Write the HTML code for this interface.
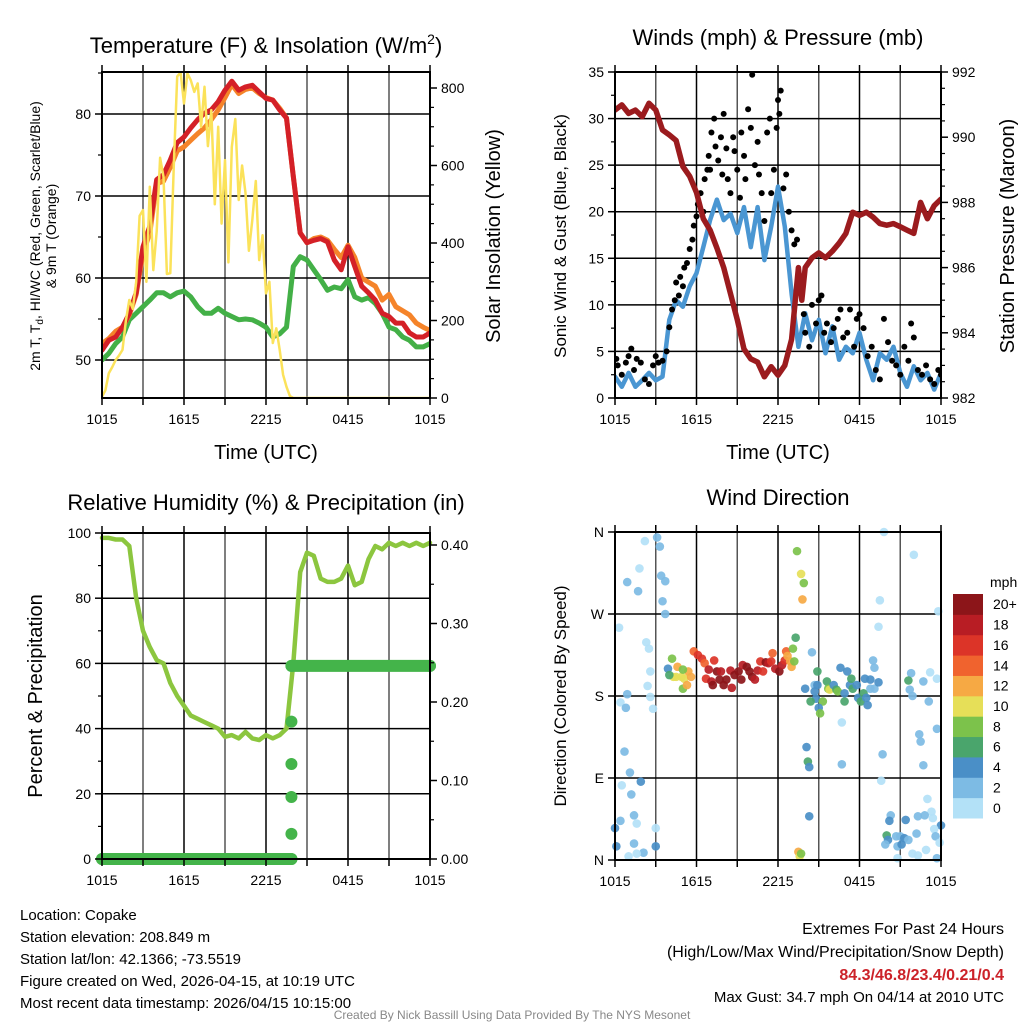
<!DOCTYPE html>
<html><head><meta charset="utf-8">
<style>
body{margin:0;background:#fff;}
svg{display:block;font-family:"Liberation Sans",sans-serif;}
</style></head>
<body>
<svg id="chart" width="1024" height="1024" viewBox="0 0 1024 1024">
</svg>
<script>
// ---------- DATA ----------
const halfHourT = [0,0.5,1,1.5,2,2.5,3,3.5,4,4.5,5,5.5,6,6.5,7,7.5,8,8.5,9,9.5,10,10.5,11,11.5,12,12.5,13,13.5,14,14.5,15,15.5,16,16.5,17,17.5,18,18.5,19,19.5,20,20.5,21,21.5,22,22.5,23,23.5,24];
const timeTickLabels = ["1015","1615","2215","0415","1015"];
const temp2m = [51.2,52.4,52.8,54,55.7,58.2,63.8,66.3,72,72.6,74.4,76.5,77.2,78.3,79.3,80.1,80.5,81.5,82.9,84,82.9,83.3,83.5,82.7,81.9,81.7,80.5,79.5,72.4,65.5,64.3,64.6,64.8,64.4,62.2,61,63.8,61.4,59,58.2,57.3,55.7,55.3,54.5,54.5,53.3,52.8,52.8,53.3];
const temp9m = [52,52.6,53.5,54,55.5,58,63,65.5,71.5,71.8,73.5,75.5,76,76.8,77.6,78.3,79.3,80.5,82,83.6,82.5,83,83.2,82.5,82,81.7,80.7,79.5,72.4,65.5,64.3,64.8,65,64.6,63.5,62.5,64,62.5,60,59.5,59,57.3,58,56.5,56,55.5,54.5,54,53.6];
const dewpoint = [50,50.8,52,52.8,54.9,55.7,56.5,57.3,58.2,58.2,57.7,58.2,58.4,57.7,56.5,55.7,55.7,56.3,55.7,55.3,54.9,55,54.9,54.5,54,52.8,53.2,54,61.4,62.6,62.2,61,59.8,58.5,58.9,58.7,59.8,57.7,57.3,57.6,56.9,55.7,54,53.7,52.8,52.4,51.6,51.6,52];
const insolT = [0,0.25,0.5,0.75,1,1.25,1.5,1.75,2,2.25,2.5,2.75,3,3.25,3.5,3.75,4,4.25,4.5,4.75,5,5.25,5.5,5.75,6,6.25,6.5,6.75,7,7.25,7.5,7.75,8,8.25,8.5,8.75,9,9.25,9.5,9.75,10,10.25,10.5,10.75,11,11.25,11.5,11.75,12,12.25,12.5,12.75,13,13.25,13.5,13.75,14,24];
const insol = [3,20,64,80,98,110,124,200,253,230,300,470,485,300,545,330,430,620,571,320,322,600,830,840,760,838,820,790,812,700,803,650,743,500,700,450,614,350,648,720,511,600,529,380,459,560,356,420,270,300,142,180,124,60,29,5,0,0];
const tempTicks = [50,60,70,80];
const insolTicks = [0,200,400,600,800];

const windSpeed = [2.3,1.2,2.7,1.2,1.9,2.7,1.9,2.3,8.4,10.5,9.8,12,13.4,16.2,19.1,21.3,19.1,19.8,17.7,20.5,16.2,20.5,14.8,18.4,22.7,18.4,11.2,5.5,9.1,6.2,8.4,4.8,7.7,4.1,5.5,4.8,7,4.1,1.9,4.8,4.1,5.5,2.7,1.2,3.4,1.9,2.7,0.9,2.7];
const pressureT = [0,0.5,1,1.5,2,2.5,3,3.5,4,4.5,5,5.5,6,6.5,7,7.5,8,8.5,9,9.5,10,10.5,11,11.5,12,12.5,13,13.5,13.75,14,14.5,15,15.5,16,16.5,17,17.5,18,18.5,19,19.5,20,20.5,21,21.5,22,22.5,23,23.5,24];
const pressure = [990.83,990.99,990.73,990.83,990.63,991.04,990.83,990.22,990.07,989.9,989.1,988.8,988.3,987.5,987.15,986.6,986.0,985.2,984.4,983.5,983.2,983.1,982.65,982.96,982.7,983,983.8,986,985,986,986.3,986.45,986.3,986.5,986.75,987.05,987.7,987.6,987.7,987.55,987.35,987.3,987.35,987.25,987.15,987.05,988,987.5,987.9,988.1];
const gustT = [0.1,0.2,0.5,0.8,1.0,1.2,1.4,1.6,1.9,2.2,2.5,2.8,3.0,3.2,3.5,3.8,4.0,4.2,4.4,4.5,4.7,4.8,5.0,5.1,5.3,5.5,5.7,5.8,6.0,6.1,6.3,6.5,6.6,6.8,6.9,7.0,7.1,7.3,7.4,7.6,7.8,7.9,8.0,8.2,8.3,8.5,8.7,8.8,9.0,9.2,9.3,9.5,9.6,9.8,10.0,10.1,10.3,10.5,10.6,10.8,11.0,11.2,11.4,11.5,11.7,11.9,12.0,12.1,12.2,12.4,12.6,12.8,13.0,13.2,13.4,13.5,13.7,13.9,14.0,14.3,14.5,14.8,15.0,15.2,15.4,15.6,15.9,16.1,16.4,16.6,16.8,17.1,17.3,17.6,17.8,18.0,18.3,18.6,18.9,19.2,19.5,19.8,20.1,20.4,20.7,21.0,21.3,21.6,21.8,22.0,22.3,22.6,22.9,23.2,23.5,23.8,24.0];
const gustV = [4.2,3.5,2.5,3.8,4.5,5.3,3.0,4.2,3.8,2.0,1.5,3.5,4.5,3.8,4.0,5.0,7.6,9.5,10.5,12.4,11.0,13.0,12.0,14.0,14.5,16.0,17.0,18.5,19.5,20.8,22.0,20.0,23.5,24.5,26.0,24.5,28.5,30.0,27.0,25.5,28.0,24.0,30.5,26.8,23.5,22.0,28.0,26.5,24.5,21.5,28.5,26.0,23.5,31.0,29.0,34.7,25.0,27.5,24.0,22.0,19.0,28.5,30.0,22.0,24.5,29.0,32.0,30.5,33.0,22.5,24.0,20.0,18.0,16.5,17.0,13.0,11.5,9.0,7.0,5.5,10.0,8.0,10.5,11.0,7.0,8.0,6.0,7.5,8.5,9.5,6.5,7.0,9.5,5.5,8.5,9.0,7.5,4.5,5.5,3.0,2.0,8.5,6.0,4.0,3.5,2.5,5.5,4.0,8.0,6.5,3.0,2.5,3.5,2.0,1.5,3.0,2.5];
const windTicks = [0,5,10,15,20,25,30,35];
const pressTicks = [982,984,986,988,990,992];

const rh = [98.5,98.5,98,98,96,80,70,65,61,60,54,50,47,44,43,42,41,40,37.5,38,37,39,37,36.5,38,37,38,40,60,88,94,93,86,85,85,86,90,84,85,92,96,95,97,96,97,96,97,96,97];
const precipT = [0,13.86,13.86,13.86,13.86,13.86,13.86,24];
const precipV = [0,0,0.032,0.079,0.121,0.175,0.246,0.246];
const rhTicks = [0,20,40,60,80,100];
const precipTicks = [0,0.1,0.2,0.3,0.4];
const precipTickLabels = ["0.00","0.10","0.20","0.30","0.40"];

const dirT = [2.2,3.1,3.3,1.8,0.9,1.7,3.4,3.7,3.5,3.7,0.3,2.3,2.5,2.6,2.4,2.6,0.9,0.4,0.8,2.8,0.7,1.1,1.9,0.5,1.2,1.4,1.6,0.4,0,3.0,0.1,1.4,2.1,1.0,3.0,1.6,
3.9,4.2,4.6,4.3,4.5,4.9,5.1,5.4,5.6,5.0,5.3,4.0,5.0,
5.8,6.1,6.4,6.6,6.9,6.7,7.1,7.2,7.3,7.5,7.7,7.8,8.0,8.2,8.5,8.6,8.8,9.1,9.3,9.4,9.7,9.9,10.1,10.3,10.5,10.7,10.9,11.1,11.3,11.5,11.6,11.8,12.1,12.3,12.5,12.6,12.7,12.9,13.0,13.1,13.2,13.3,
13.4,13.7,13.9,13.8,14.5,14.0,14.7,14.9,14.9,14.7,14.8,14.4,15.3,15.0,15.1,15.6,15.7,15.8,16.1,16.3,16.4,16.6,16.7,16.9,16.9,17.1,17.3,17.4,17.5,17.8,17.9,18.1,18.3,18.4,18.6,18.5,18.8,18.8,19.0,19.1,19.1,19.4,14.1,14.2,14.3,16.7,14.3,13.5,13.6,13.7,
19.8,22.0,19.5,19.4,23.8,21.8,21.6,22.7,23.2,23.7,21.7,21.9,23.1,23.7,22.4,22.5,22.7,19.7,19.6,23.0,23.3,20.3,20.2,21.4,22.3,22.8,23.4,24.0,23.5,20.0,20.1,20.7,21.0,21.3,21.6,22.2,19.9,20.8,21.1,23.6,22.9,23.9,21.9,22.3,23.7,20.8];
const dirDeg = [350,354,344,320,305,295,312,306,284,270,255,239,232,207,191,179,182,173,167,166,119,96,86,82,72,49,40,43,35,35,15,18,8,4,15,7,
210,221,212,201,201,201,199,207,201,188,192,203,209,
229,225,221,216,209,199,196,192,219,207,198,207,192,198,208,189,203,207,198,214,212,207,201,198,208,218,207,217,216,218,227,210,207,214,219,229,224,218,212,232,218,244,
339,314,304,286,228,188,192,207,192,185,177,174,174,167,161,196,188,187,192,187,185,211,151,174,183,207,192,199,188,192,178,174,183,199,170,178,198,188,219,211,188,195,124,108,102,105,48,9,4,7,
360,335,285,256,273,205,197,196,206,199,187,180,174,144,138,130,104,116,87,67,53,49,43,44,48,49,46,38,34,27,22,26,26,24,22,29,17,15,17,26,11,19,7,5,2,2];
const dirSpeed = [1,3,3,1,3,3,3,3,3,3,1,1,1,1,1,1,3,1,3,1,3,3,5,1,3,3,1,3,5,1,5,3,3,1,5,1,
5,9,13,11,11,11,11,13,13,9,13,7,9,
15,17,17,15,19,17,19,21,17,21,21,19,21,21,19,19,21,21,21,19,21,21,21,19,19,17,17,21,19,17,15,19,21,19,17,15,13,13,13,9,9,7,
9,11,9,13,3,5,3,7,5,5,5,7,9,5,9,7,9,11,5,7,9,5,1,7,5,5,5,7,7,5,5,7,7,5,5,5,5,3,3,3,3,5,5,7,5,3,5,13,11,9,
1,1,1,1,1,3,7,3,1,1,3,3,3,3,3,3,3,3,1,1,1,3,5,5,3,3,1,5,1,7,5,3,3,5,3,3,3,3,5,3,1,1,1,1,3,1];
const dirTicks = [0,90,180,270,360];
const dirTickLabels = ["N","E","S","W","N"];
const speedBins = ["0","2","4","6","8","10","12","14","16","18","20+"];
const speedColors = ["#b3e1f7","#7dbbe4","#4a8fc7","#4aa56c","#7cc24b","#e6df58","#f6a944","#f0632e","#dc3428","#b81d24","#8c1519"];

// ---------- DRAW ----------
const NS="http://www.w3.org/2000/svg";
const svg=document.getElementById('chart');
function el(tag,attrs,parent){const e=document.createElementNS(NS,tag);for(const k in attrs)e.setAttribute(k,attrs[k]);(parent||svg).appendChild(e);return e;}
function txt(s,attrs,parent){const e=el('text',attrs,parent);e.textContent=s;return e;}
function lin(d0,d1,p0,p1){return v=>p0+(v-d0)/(d1-d0)*(p1-p0);}

function panel(name){
  const g=el('g',{});
  
  
  return g;
}
function grid(g,x0,x1,y0,y1,ys,xsc){
  const gg=el('g',{},g);
  
  
  for(let h=3;h<24;h+=3){const x=xsc(h);el('line',{x1:x,x2:x,y1:y0,y2:y1,stroke:(h%6===0)?'#000':'#555','stroke-width':1.5},gg);}
  ys.forEach(y=>el('line',{x1:x0,x2:x1,y1:y,y2:y,stroke:'#000','stroke-width':1.5},gg));
}
function frame(g,x0,x1,y0,y1,xsc){
  el('rect',{x:x0,y:y0,width:x1-x0,height:y1-y0,fill:'none',stroke:'#000','stroke-width':2},g);
  for(let h=0;h<=24;h+=3){const x=xsc(h);el('line',{x1:x,x2:x,y1:y1,y2:y1+7,stroke:'#000','stroke-width':1.5},g);el('line',{x1:x,x2:x,y1:y0,y2:y0-7,stroke:'#000','stroke-width':1.5},g);}
  timeTickLabels.forEach((s,i)=>{const t=txt(s,{x:xsc(i*6),y:y1+26,'font-size':14,'text-anchor':'middle'},g);
    });
}
function leftTicks(g,x0,vals,ysc,labels,minor){
  vals.forEach((v,i)=>{const y=ysc(v);el('line',{x1:x0-7,x2:x0,y1:y,y2:y,stroke:'#000','stroke-width':1.5},g);
    const t=txt(labels?labels[i]:String(v),{x:x0-11,y:y+5,'font-size':14,'text-anchor':'end'},g);
    });
  (minor||[]).forEach(v=>{const y=ysc(v);el('line',{x1:x0-4,x2:x0,y1:y,y2:y,stroke:'#000','stroke-width':1.2},g);});
}
function rightTicks(g,x1,vals,ysc,labels,minor){
  vals.forEach((v,i)=>{const y=ysc(v);el('line',{x1:x1,x2:x1+7,y1:y,y2:y,stroke:'#000','stroke-width':1.5},g);
    const t=txt(labels?labels[i]:String(v),{x:x1+11,y:y+5,'font-size':14,'text-anchor':'start'},g);
    });
  (minor||[]).forEach(v=>{const y=ysc(v);el('line',{x1:x1,x2:x1+4,y1:y,y2:y,stroke:'#000','stroke-width':1.2},g);});
}
function path(g,ts,vs,xsc,ysc,color,w,name){
  const d=ts.map((t,i)=>(i?'L':'M')+xsc(t).toFixed(1)+','+ysc(vs[i]).toFixed(1)).join('');
  const p=el('path',{d:d,fill:'none',stroke:color,'stroke-width':w,'stroke-linejoin':'round','stroke-linecap':'round'},g);
  
  
  return p;
}
function clip(id,x0,x1,y0,y1){const c=el('clipPath',{id:id});el('rect',{x:x0,y:y0,width:x1-x0,height:y1-y0},c);}

// Panel 1
{
const x0=102,x1=430,y0=72,y1=398;
const xs=lin(0,24,x0,x1), ys=lin(50,80,360,114), yr=lin(0,800,398,88);
const g=panel('temperature-panel');
clip('c1',x0,x1,y0,y1);
grid(g,x0,x1,y0,y1,tempTicks.map(ys),xs);
const d=el('g',{'clip-path':'url(#c1)'},g);
path(d,halfHourT,dewpoint,xs,ys,'#43b047',5,'dewpoint-line');
path(d,halfHourT,temp9m,xs,ys,'#f5842a',5,'temp-9m-line');
path(d,halfHourT,temp2m,xs,ys,'#d42027',5,'temp-2m-line');
path(d,insolT,insol,xs,yr,'#fbe25a',2.5,'insolation-line');
frame(g,x0,x1,y0,y1,xs);
leftTicks(g,x0,tempTicks,ys,null,[55,65,75,85]);
rightTicks(g,x1,insolTicks,yr,null,[50,100,150,250,300,350,450,500,550,650,700,750]);
const t=txt('',{x:266,y:53,'font-size':22,'text-anchor':'middle'},g);
t.innerHTML='Temperature (F) &amp; Insolation (W/m<tspan dy="-9" font-size="14">2</tspan><tspan dy="9">)</tspan>';

const xt=txt('Time (UTC)',{x:266,y:459,'font-size':20,'text-anchor':'middle'},g);

const yl=el('text',{transform:'translate(40,236) rotate(-90)','font-size':14,'text-anchor':'middle'},g);
yl.innerHTML='2m T, T<tspan dy="3" font-size="10">d</tspan><tspan dy="-3">, HI/WC (Red, Green, Scarlet/Blue)</tspan>';

const yl2=txt('& 9m T (Orange)',{transform:'translate(56,236) rotate(-90)','font-size':14,'text-anchor':'middle'},g);

const yr2=txt('Solar Insolation (Yellow)',{transform:'translate(500,236) rotate(-90)','font-size':20,'text-anchor':'middle'},g);

}
// Panel 2
{
const x0=615,x1=941,y0=72,y1=398;
const xs=lin(0,24,x0,x1), ys=lin(0,35,398,72), yr=lin(982,992,398,72);
const g=panel('winds-panel');
clip('c2',x0,x1,y0,y1);
grid(g,x0,x1,y0,y1,windTicks.map(ys),xs);
const d=el('g',{'clip-path':'url(#c2)'},g);
path(d,halfHourT,windSpeed,xs,ys,'#4a96d2',4.5,'wind-speed-line');
gustT.forEach((t,i)=>{const c=el('circle',{cx:xs(t),cy:ys(gustV[i]),r:3,fill:'#000'},d);
  });
path(d,pressureT,pressure,xs,yr,'#9b1b1e',5.5,'pressure-line');
frame(g,x0,x1,y0,y1,xs);
leftTicks(g,x0,windTicks,ys,null,[2.5,7.5,12.5,17.5,22.5,27.5,32.5]);
rightTicks(g,x1,pressTicks,yr,null,[982.5,983,983.5,984.5,985,985.5,986.5,987,987.5,988.5,989,989.5,990.5,991,991.5]);
const t=txt('Winds (mph) & Pressure (mb)',{x:778,y:45,'font-size':22,'text-anchor':'middle'},g);

const xt=txt('Time (UTC)',{x:778,y:459,'font-size':20,'text-anchor':'middle'},g);

const yl=txt('Sonic Wind & Gust (Blue, Black)',{transform:'translate(566,236) rotate(-90)','font-size':17,'text-anchor':'middle'},g);

const yr2=txt('Station Pressure (Maroon)',{transform:'translate(1014,236) rotate(-90)','font-size':20,'text-anchor':'middle'},g);

}
// Panel 3
{
const x0=102,x1=430,y0=533,y1=859;
const xs=lin(0,24,x0,x1), ys=lin(0,100,859,533), yr=lin(0,0.4,859,545);
const g=panel('humidity-panel');
grid(g,x0,x1,y0,y1,rhTicks.map(ys),xs);
path(g,halfHourT,rh,xs,ys,'#8cc63f',4.5,'humidity-line');
for(let i=0;i<precipT.length;i++){
  if(i>0&&precipV[i]===precipV[i-1]){const s=el('line',{x1:xs(precipT[i-1]),x2:xs(precipT[i]),y1:yr(precipV[i]),y2:yr(precipV[i]),stroke:'#44b44a','stroke-width':12,'stroke-linecap':'round'},g);
    }
  const c=el('circle',{cx:xs(precipT[i]),cy:yr(precipV[i]),r:6,fill:'#44b44a'},g);
  
}
frame(g,x0,x1,y0,y1,xs);
leftTicks(g,x0,rhTicks,ys,null,[10,30,50,70,90]);
rightTicks(g,x1,precipTicks,yr,precipTickLabels,[0.05,0.15,0.25,0.35]);
const t=txt('Relative Humidity (%) & Precipitation (in)',{x:266,y:510,'font-size':22,'text-anchor':'middle'},g);

const yl=txt('Percent & Precipitation',{transform:'translate(42,696) rotate(-90)','font-size':20,'text-anchor':'middle'},g);

}
// Panel 4
{
const x0=615,x1=941,y0=532,y1=860;
const xs=lin(0,24,x0,x1), ys=lin(0,360,860,532);
const g=panel('wind-direction-panel');
clip('c4',x0-6,x1+6,y0-6,y1+6);
grid(g,x0,x1,y0,y1,dirTicks.map(ys),xs);
const d=el('g',{'clip-path':'url(#c4)'},g);
dirT.forEach((t,i)=>{const bin=Math.min(10,Math.floor(dirSpeed[i]/2));
  const c=el('circle',{cx:xs(t),cy:ys(dirDeg[i]),r:4.3,fill:speedColors[bin],'fill-opacity':0.92},d);
  });
frame(g,x0,x1,y0,y1,xs);
leftTicks(g,x0,dirTicks,ys,dirTickLabels,[]);
const t=txt('Wind Direction',{x:778,y:505,'font-size':22,'text-anchor':'middle'},g);

const yl=txt('Direction (Colored By Speed)',{transform:'translate(566,696) rotate(-90)','font-size':17,'text-anchor':'middle'},g);

const cb=el('g',{},g);


const bh=224/speedBins.length;
speedColors.forEach((col,i)=>{const y=818-(i+1)*bh;
  const r=el('rect',{x:953,y:y,width:30,height:bh+0.5,fill:col},cb);
  
  const l=txt(speedBins[i],{x:993,y:y+bh/2+5,'font-size':14},cb);
  });
const m=txt('mph',{x:990,y:587,'font-size':14},cb);

}
// Footer text
{
const g=el('g',{'font-size':15});


["Location: Copake","Station elevation: 208.849 m","Station lat/lon: 42.1366; -73.5519","Figure created on Wed, 2026-04-15, at 10:19 UTC","Most recent data timestamp: 2026/04/15 10:15:00"].forEach((s,i)=>{
  const t=txt(s,{x:20,y:920+i*22},g);});
const r=el('g',{'font-size':16,'text-anchor':'end'});


const a=txt('Extremes For Past 24 Hours',{x:1004,y:934},r);
const b=txt('(High/Low/Max Wind/Precipitation/Snow Depth)',{x:1004,y:957},r);
const c=txt('84.3/46.8/23.4/0.21/0.4',{x:1004,y:980,fill:'#cc2229','font-weight':'bold'},r);
const e=txt('Max Gust: 34.7 mph On 04/14 at 2010 UTC',{x:1004,y:1002,'font-size':15},r);
const f=txt('Created By Nick Bassill Using Data Provided By The NYS Mesonet',{x:512,y:1019,'font-size':12,fill:'#888','text-anchor':'middle'});

}
</script>
</body></html>
